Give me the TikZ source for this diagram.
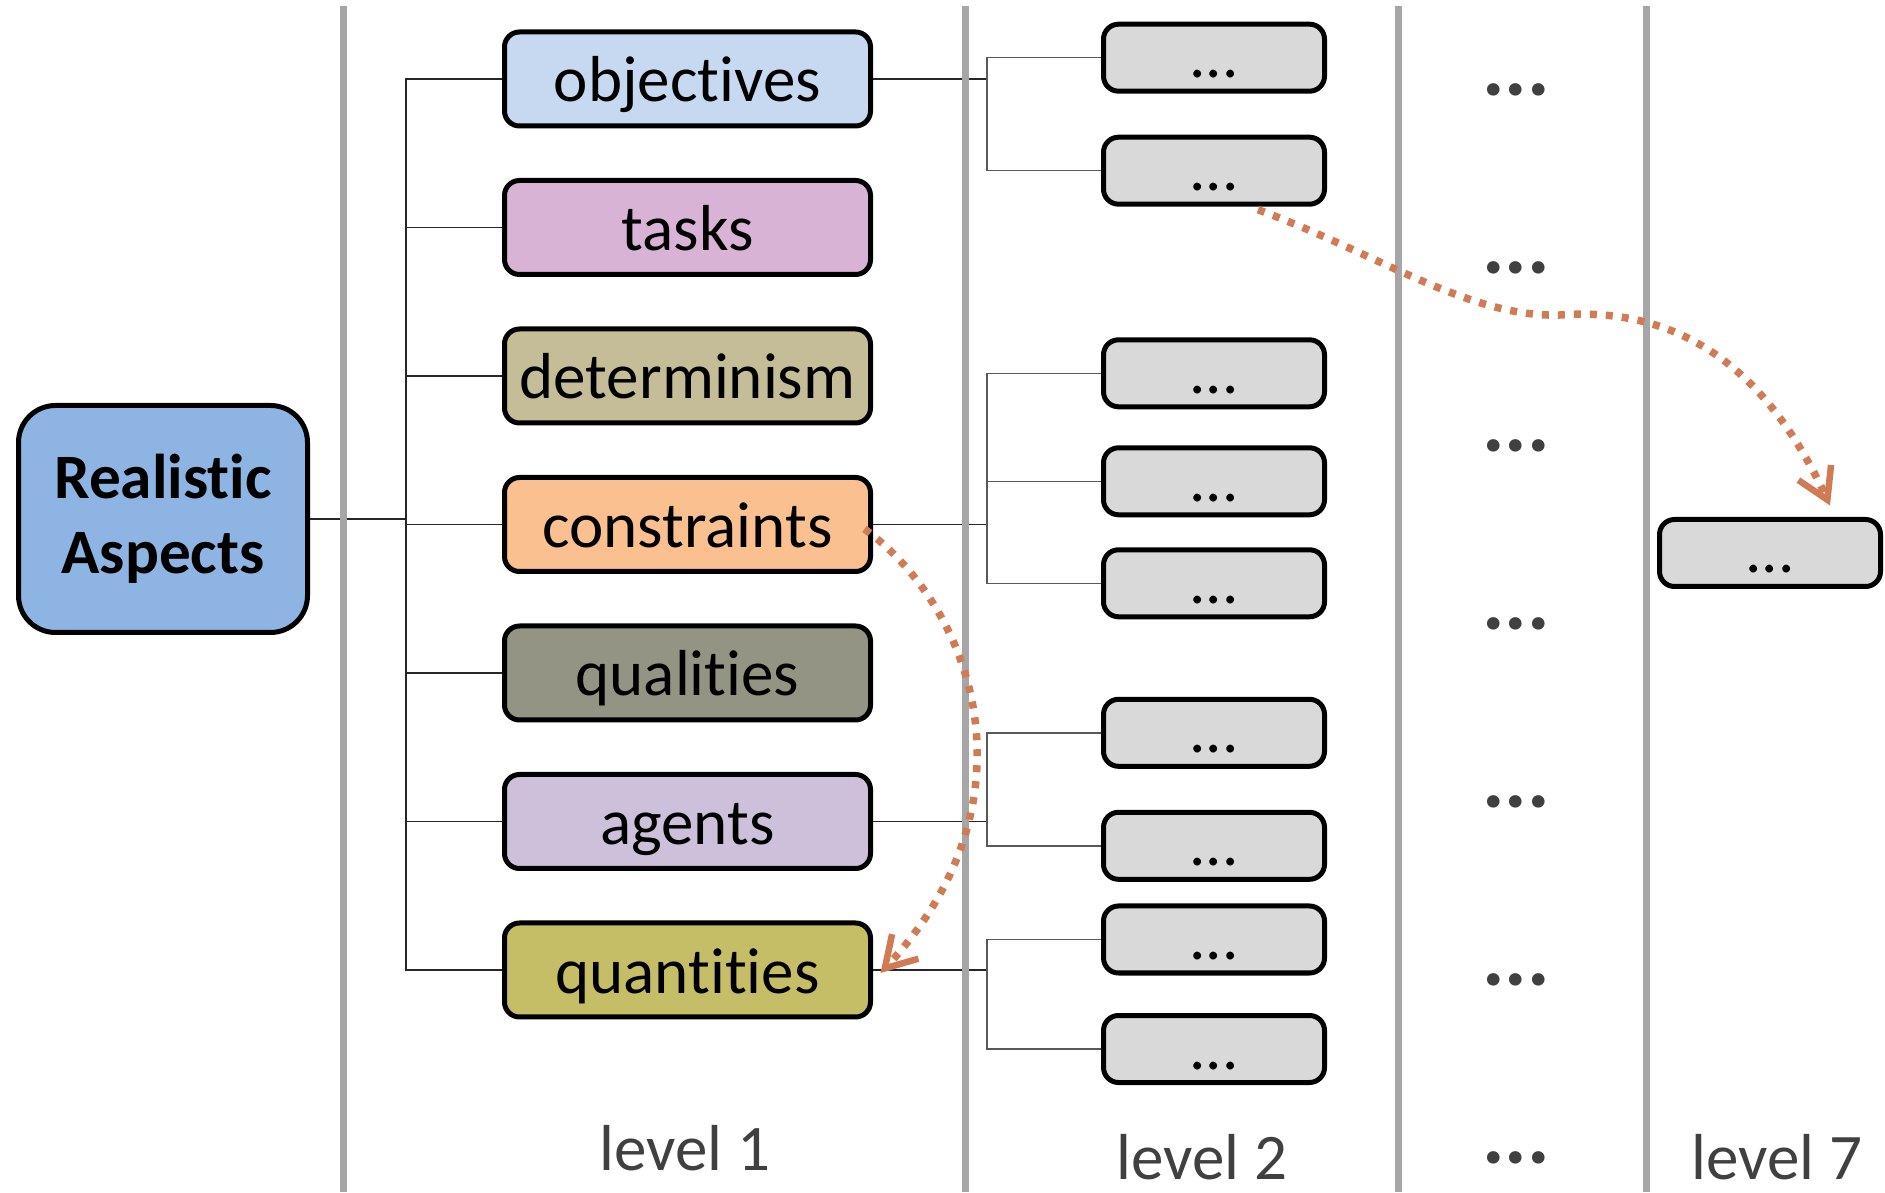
\documentclass[tikz,border=0pt]{standalone}
\usepackage{fontspec}
\setmainfont{Carlito}[Ligatures=NoCommon]
\usepackage{tikz}
\usetikzlibrary{arrows.meta,positioning}
\definecolor{aspRoot}{HTML}{8DB4E2}
\definecolor{aspObj}{HTML}{C6D9F1}
\definecolor{aspTask}{HTML}{D9B3D6}
\definecolor{aspDet}{HTML}{C4BD97}
\definecolor{aspCons}{HTML}{FAC090}
\definecolor{aspQual}{HTML}{939483}
\definecolor{aspAgent}{HTML}{CCC0DA}
\definecolor{aspQuant}{HTML}{C6BE66}
\definecolor{aspSub}{HTML}{D9D9D9}
\definecolor{aspInk}{HTML}{404040}
\definecolor{aspRule}{HTML}{A6A6A6}
\definecolor{aspJump}{HTML}{D07B56}
\tikzset{
  aspbox/.style={rounded corners=0.15cm, draw=black, line width=0.05cm, inner sep=0pt,
                 minimum width=3.66cm, minimum height=0.94cm, text height=0.56cm, text depth=0.10cm,
                 font=\fontsize{18.5}{20}\selectfont},
  subbox/.style={aspbox, fill=aspSub, minimum width=2.21cm, minimum height=0.67cm,
                 text height=0.50cm, text depth=0.10cm},
  rootbox/.style={rounded corners=0.37cm, draw=black, line width=0.05cm, fill=aspRoot, align=center,
                  minimum width=2.89cm, minimum height=2.27cm, font=\bfseries\fontsize{18}{21.5}\selectfont},
  moredots/.style={text=aspInk, inner sep=0pt, font=\bfseries\fontsize{24}{26}\selectfont},
  lvlnote/.style={text=aspInk, inner sep=0pt, anchor=base, font=\fontsize{18.5}{20}\selectfont},
  trunk/.style={draw=black!85, line width=0.45pt},
  twig/.style={draw=black!65, line width=0.45pt},
  divider/.style={draw=aspRule, line width=0.07cm},
  jump/.style={draw=aspJump, line width=0.075cm, dash pattern=on 0.07cm off 0.09cm,
               -{Straight Barb[length=0.3cm, width=0.36cm, line width=0.065cm]}},
}
\begin{document}
\begin{tikzpicture}[node distance=0.495cm]
    \useasboundingbox (0,0) rectangle (18.85,11.92);
    % root and level 1
    \node[rootbox] (ra) at (1.63,6.73) {Realistic\\Aspects};
    \node[aspbox, fill=aspObj] (obj) at (6.875,11.13) {objectives};
    \node[aspbox, fill=aspTask, below=of obj] (tasks) {tasks};
    \node[aspbox, fill=aspDet, below=of tasks] (det) {determinism};
    \node[aspbox, fill=aspCons, below=of det] (cons) {constraints};
    \node[aspbox, fill=aspQual, below=of cons] (qual) {qualities};
    \node[aspbox, fill=aspAgent, below=of qual] (agent) {agents};
    \node[aspbox, fill=aspQuant, below=of agent] (quant) {quantities};
    % level 2
    \node[subbox] (a1) at (12.14,11.343) {...};
    \node[subbox, below=0.41cm of a1] (a2) {...};
    \node[subbox] (c1) at (12.14,8.187) {...};
    \node[subbox, below=0.36cm of c1] (c2) {...};
    \node[subbox, below=0.30cm of c2] (c3) {...};
    \node[subbox] (g1) at (12.14,4.592) {...};
    \node[subbox, below=0.41cm of g1] (g2) {...};
    \node[subbox] (q1) at (12.14,2.525) {...};
    \node[subbox, below=0.375cm of q1] (q2) {...};
    % level 7
    \node[subbox] (l7) at (17.70,6.39) {...};
    % levels in between
    \node[moredots] (m1) at (15.16,11.02) {...};
    \node[moredots] (m2) at (15.16,9.24) {...};
    \node[moredots] (m3) at (15.16,7.46) {...};
    \node[moredots] (m4) at (15.16,5.68) {...};
    \node[moredots] (m5) at (15.16,3.90) {...};
    \node[moredots] (m6) at (15.16,2.12) {...};
    \node[moredots] (m7) at (15.16,0.34) {...};
    \node[lvlnote] (lv1) at (6.85,0.22) {level 1};
    \node[lvlnote] (lv2) at (12.02,0.13) {level 2};
    \node[lvlnote] (lv7) at (17.77,0.13) {level 7};
    % tree lines
    \coordinate (tr) at (4.06,0);
    \coordinate (br) at (9.87,0);
    \draw[trunk] (ra.east) -- (ra.east -| tr);
    \draw[trunk] (obj.west) -- (obj.west -| tr) -- (quant.west -| tr) -- (quant.west);
    \draw[trunk] (tasks.west) -- (tasks.west -| tr);
    \draw[trunk] (det.west) -- (det.west -| tr);
    \draw[trunk] (cons.west) -- (cons.west -| tr);
    \draw[trunk] (qual.west) -- (qual.west -| tr);
    \draw[trunk] (agent.west) -- (agent.west -| tr);
    \draw[trunk] (obj.east) -- (obj.east -| br);
    \draw[trunk] (cons.east) -- (cons.east -| br);
    \draw[trunk] (agent.east) -- (agent.east -| br);
    \draw[trunk] (quant.east) -- (quant.east -| br);
    \draw[twig] (a1.west) -- (a1.west -| br) -- (a2.west -| br) -- (a2.west);
    \draw[twig] (c1.west) -- (c1.west -| br) -- (c3.west -| br) -- (c3.west);
    \draw[twig] (c2.west) -- (c2.west -| br);
    \draw[twig] (g1.west) -- (g1.west -| br) -- (g2.west -| br) -- (g2.west);
    \draw[twig] (q1.west) -- (q1.west -| br) -- (q2.west -| br) -- (q2.west);
    % column rules
    \draw[divider] (3.43,11.86) -- (3.43,0);
    \draw[divider] (9.65,11.86) -- (9.65,0);
    \draw[divider] (13.98,11.86) -- (13.98,0);
    \draw[divider] (16.46,11.86) -- (16.46,0);
    % jumps
    \draw[jump] ([xshift=-0.085cm,yshift=-0.045cm]cons.east) .. controls (9.75,5.82) and (10.40,3.90) .. ([xshift=0.075cm,yshift=-0.03cm]quant.east);
    \draw[jump] ([xshift=0.44cm,yshift=-0.03cm]a2.south) .. controls (13.80,9.37) and (14.70,8.74) .. (15.60,8.77)
                .. controls (16.95,8.87) and (17.75,8.05) .. ([xshift=0.6cm,yshift=0.115cm]l7.north);
\end{tikzpicture}
\end{document}
